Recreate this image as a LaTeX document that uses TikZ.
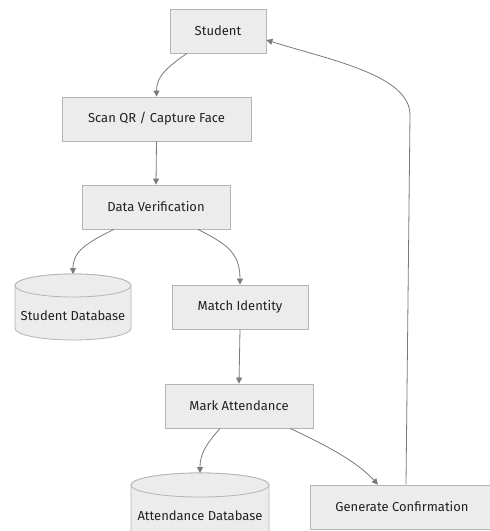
\documentclass[tikz,border=0pt]{standalone}
\usepackage{fontspec}
\setmainfont{Fira Sans}
\usetikzlibrary{arrows.meta}
\definecolor{boxfill}{HTML}{ECECEC}
\definecolor{boxline}{HTML}{B4B4B4}
\definecolor{edgecol}{HTML}{7A7A7A}
\definecolor{txt}{HTML}{222222}
\begin{document}
\begin{tikzpicture}[x=1pt,y=-1pt,
  box/.style={draw=boxline,fill=boxfill,line width=0.8pt,minimum height=44pt,inner sep=0pt,font=\fontsize{13}{15}\selectfont,text=txt},
  lbl/.style={inner sep=0pt,font=\fontsize{13}{15}\selectfont,text=txt},
  db/.style={draw=boxline,fill=boxfill,line width=0.8pt},
  flow/.style={draw=edgecol,line width=0.8pt,-{Triangle[length=6pt,width=6pt]}}]
\useasboundingbox (0,0) rectangle (490,531);
\fill[white] (0,0) rectangle (490,531);
% nodes
\node[box,minimum width=96pt] (stu) at (218,31) {Student};
\node[box,minimum width=189pt] (scan) at (156.5,119) {Scan QR / Capture Face};
\node[box,minimum width=148pt] (ver) at (156,207) {Data Verification};
\node[box,minimum width=136pt] (match) at (240,307) {Match Identity};
\node[box,minimum width=148pt] (mark) at (239,406) {Mark Attendance};
\node[box,minimum width=184pt] (gen) at (402,507) {Generate Confirmation};
% Student Database cylinder
\draw[db] (15,285.5) arc[start angle=180,end angle=360,x radius=58,y radius=11.5]
  -- (131,328.5) arc[start angle=0,end angle=180,x radius=58,y radius=11.5] -- cycle;
\draw[db] (73,285.5) ellipse[x radius=58,y radius=11.5];
\node[lbl] (sdb) at (73,316) {Student Database};
\coordinate (sdbtop) at (73,274);
% Attendance Database cylinder
\draw[db] (131,485) arc[start angle=180,end angle=360,x radius=69,y radius=12]
  -- (269,545) -- (131,545) -- cycle;
\draw[db] (200,485) ellipse[x radius=69,y radius=12];
\node[lbl] (adb) at (200,516) {Attendance Database};
\coordinate (adbtop) at (200,473);
% edges
\draw[flow] ([xshift=-31pt]stu.south) .. controls +(-22,15) and +(0,-19) .. (scan.north);
\draw[flow] (scan.south) -- (ver.north);
\draw[flow] ([xshift=-42pt]ver.south) .. controls +(-29,14) and +(0,-22) .. (sdbtop);
\draw[flow] ([xshift=42pt]ver.south) .. controls +(27,14) and +(0,-33) .. (match.north);
\draw[flow] (match.south) -- (mark.north);
\draw[flow] ([xshift=-19pt]mark.south) .. controls +(-15,17) and +(0,-18) .. (adbtop);
\draw[flow] ([xshift=51pt]mark.south) .. controls +(30,14) and +(-23,-25) .. ([xshift=-24pt]gen.north);
\draw[flow] ([xshift=4pt]gen.north) -- (410,115) .. controls (410,75) and (330,60) .. ([yshift=-9pt]stu.east);
\end{tikzpicture}
\end{document}
